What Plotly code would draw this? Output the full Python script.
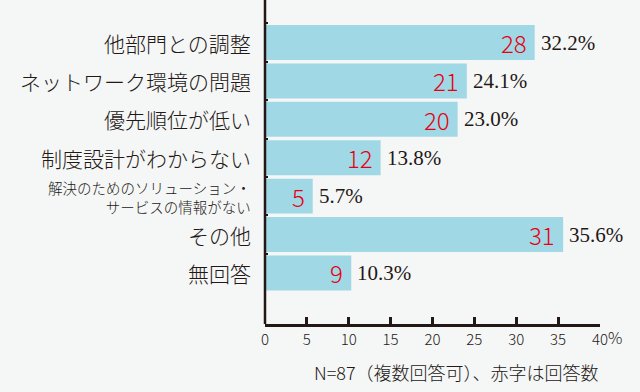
import plotly.graph_objects as go

categories = ["他部門との調整", "ネットワーク環境の問題", "優先順位が低い", "制度設計がわからない",
              "解決のためのソリューション・<br>サービスの情報がない", "その他", "無回答"]
percents = [32.2, 24.1, 23.0, 13.8, 5.7, 35.6, 10.3]
counts = [28, 21, 20, 12, 5, 31, 9]
xticks = [0, 5, 10, 15, 20, 25, 30, 35, 40]
xticklabels = ["0", "5", "10", "15", "20", "25", "30", "35", "40"]
note = "N=87（複数回答可）、赤字は回答数"

BG = "#f5f6f6"
BAR = "#a0d8e6"
INK = "#231815"
RED = "#e60012"
JP = "Noto Sans CJK JP"
SERIF = "Liberation Serif"

cat_ids = [c.replace("<br>", "") for c in categories]

fig = go.Figure(go.Bar(
    x=percents, y=cat_ids, orientation="h",
    marker=dict(color=BAR, line=dict(width=0)),
    hoverinfo="skip",
))

ann = []
for cid, c in zip(cat_ids, categories):
    two = "<br>" in c
    ann.append(dict(x=0, xref="paper", y=cid, yref="y", text=c,
                    xanchor="right", yanchor="middle", xshift=-12, align="right",
                    yshift=(-1 if two else 0), showarrow=False,
                    font=dict(family=JP, size=(14.5 if two else 21), color=INK, weight=300)))

for cid, p, n in zip(cat_ids, percents, counts):
    ann.append(dict(x=p, y=cid, text=str(n), xanchor="right", yanchor="middle",
                    xshift=-6, yshift=0, showarrow=False,
                    font=dict(family=JP, size=24, color=RED, weight=300)))
    ann.append(dict(x=p, y=cid, text=f"{p:.1f}%", xanchor="left", yanchor="middle",
                    xshift=4, showarrow=False,
                    font=dict(family=SERIF, size=21, color=INK, weight=400)))

ann.append(dict(x=40, xref="x", y=0, yref="paper", text="%", xanchor="left",
                yanchor="top", xshift=6, yshift=1, showarrow=False,
                font=dict(family=JP, size=16, color=INK, weight=300)))
ann.append(dict(x=0.573, xref="paper", y=-0.148, yref="paper", text=note,
                xanchor="center", yanchor="middle", showarrow=False,
                font=dict(family=JP, size=18, color=INK, weight=300)))

fig.update_layout(
    width=640, height=392,
    margin=dict(l=265, r=40, t=0, b=68, autoexpand=False),
    paper_bgcolor=BG, plot_bgcolor=BG,
    bargap=0.09,
    showlegend=False,
    annotations=ann,
    shapes=[dict(type="line", xref="paper", yref="paper", x0=0, x1=0, y0=0, y1=1,
                 line=dict(color=INK, width=2.5), layer="above")],
    xaxis=dict(range=[0, 40], tickvals=xticks, ticktext=xticklabels, automargin=False,
               showgrid=False, zeroline=False, showline=True, linecolor=INK, linewidth=2.5,
               ticks="inside", ticklen=7, tickwidth=2.5, tickcolor=INK,
               tickfont=dict(family=JP, size=15, color=INK, weight=300), fixedrange=True),
    yaxis=dict(type="category", categoryorder="array", categoryarray=cat_ids, automargin=False,
               range=[7.33, -1.107], showticklabels=False, showgrid=False, zeroline=False,
               showline=False,
               ticks="inside", tickson="boundaries", ticklen=3, tickwidth=2, tickcolor=INK,
               fixedrange=True),
)

fig.write_html("out.html", config={"displayModeBar": False},
               post_script="document.body.style.margin='0';document.body.style.background='" + BG + "';")
